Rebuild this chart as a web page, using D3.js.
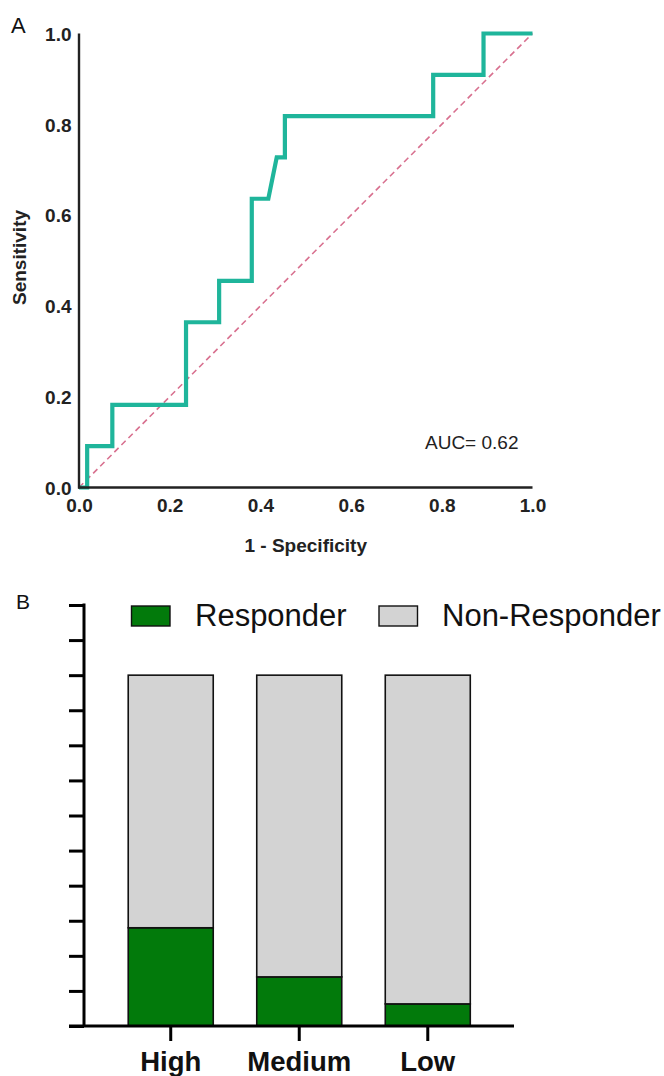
<!DOCTYPE html>
<html>
<head>
<meta charset="utf-8">
<script src="https://cdn.jsdelivr.net/npm/d3@7"></script>
<style>
  html, body { margin: 0; padding: 0; background: #fff; }
  svg { display: block; font-family: "Liberation Sans", Arial, sans-serif; }
</style>
</head>
<body>
<svg id="chart" width="664" height="1076"></svg>
<script>
// ---------- Data: panel A (ROC curve) ----------
const rocFpr = [0, 0.018, 0.018, 0.0735, 0.0735, 0.236, 0.236, 0.309, 0.309, 0.381, 0.381, 0.4175, 0.436, 0.454, 0.454, 0.781, 0.781, 0.892, 0.892, 1.0];
const rocTpr = [0, 0, 0.091, 0.091, 0.182, 0.182, 0.364, 0.364, 0.455, 0.455, 0.636, 0.636, 0.727, 0.727, 0.818, 0.818, 0.909, 0.909, 1.0, 1.0];
const rocTicks = [0, 0.2, 0.4, 0.6, 0.8, 1.0];
const aucText = "AUC= 0.62";

// ---------- Data: panel B (stacked percent bars) ----------
const groups = ["High", "Medium", "Low"];
const responder = [28, 14, 6.3];
const nonResponder = [72, 86, 93.7];
const seriesNames = ["Responder", "Non-Responder"];
const barTicks = [0, 10, 20, 30, 40, 50, 60, 70, 80, 90, 100, 110, 120];

const svg = d3.select("#chart");

// ================= Panel A =================
const A = { left: 79, right: 532.5, top: 33.5, bottom: 487.5 };
const xA = d3.scaleLinear().domain([0, 1]).range([A.left, A.right]);
const yA = d3.scaleLinear().domain([0, 1]).range([A.bottom, A.top]);

svg.append("text").attr("x", 11).attr("y", 32.5)
  .attr("font-size", 22).attr("fill", "#111").text("A");

// diagonal reference
svg.append("line")
  .attr("x1", xA(0)).attr("y1", yA(0)).attr("x2", xA(1)).attr("y2", yA(1))
  .attr("stroke", "#d8708f").attr("stroke-width", 1.6)
  .attr("stroke-dasharray", "6,4");

// ROC curve
const rocPts = rocFpr.map((f, i) => [f, rocTpr[i]]);
svg.append("path")
  .datum(rocPts)
  .attr("d", d3.line().x(d => xA(d[0])).y(d => yA(d[1])))
  .attr("fill", "none").attr("stroke", "#1fb59b")
  .attr("stroke-width", 4.2).attr("stroke-linejoin", "miter");

// axes
const axA = svg.append("g");
axA.append("line").attr("x1", A.left).attr("x2", A.left)
  .attr("y1", A.top).attr("y2", A.bottom + 1)
  .attr("stroke", "#222").attr("stroke-width", 2.4);
axA.append("line").attr("x1", A.left - 1).attr("x2", A.right)
  .attr("y1", A.bottom).attr("y2", A.bottom)
  .attr("stroke", "#222").attr("stroke-width", 2.4);

const xAxisA = d3.axisBottom(xA).tickValues(rocTicks).tickFormat(d3.format(".1f")).tickSize(0).tickPadding(0);
const gx = svg.append("g").attr("transform", `translate(0,${A.bottom})`).call(xAxisA);
gx.select(".domain").remove();
gx.selectAll("text").attr("dy", null).attr("y", 24.5)
  .attr("font-size", 19).attr("font-weight", "bold").attr("fill", "#222")
  .attr("font-family", "Liberation Sans, Arial, sans-serif");

const yAxisA = d3.axisLeft(yA).tickValues(rocTicks).tickFormat(d3.format(".1f")).tickSize(0).tickPadding(7.5);
const gy = svg.append("g").attr("transform", `translate(${A.left},0)`).call(yAxisA);
gy.select(".domain").remove();
gy.selectAll("text").attr("dy", "0.36em")
  .attr("font-size", 19).attr("font-weight", "bold").attr("fill", "#222")
  .attr("font-family", "Liberation Sans, Arial, sans-serif");

svg.append("text").attr("x", (A.left + A.right) / 2).attr("y", 552)
  .attr("text-anchor", "middle").attr("font-size", 19).attr("font-weight", "bold")
  .attr("fill", "#222").text("1 - Specificity");

svg.append("text")
  .attr("transform", `translate(25.5,${(A.top + A.bottom) / 2 - 3}) rotate(-90)`)
  .attr("text-anchor", "middle").attr("font-size", 19).attr("font-weight", "bold")
  .attr("fill", "#222").text("Sensitivity");

svg.append("text").attr("x", 425).attr("y", 448.5)
  .attr("font-size", 19).attr("fill", "#222").text(aucText);

// ================= Panel B =================
const B = { left: 84, top: 605, bottom: 1026, axisRight: 514 };
const xB = d3.scaleBand().domain(groups).range([106.5, 492]).paddingInner(0.3385).paddingOuter(0.169);
const yB = d3.scaleLinear().domain([0, 120]).range([B.bottom, B.top]);
const colors = { "Responder": "#027a0b", "Non-Responder": "#d3d3d3" };

svg.append("text").attr("x", 16).attr("y", 608.5)
  .attr("font-size", 21).attr("fill", "#111").text("B");

const stackData = groups.map((g, i) => ({ group: g, "Responder": responder[i], "Non-Responder": nonResponder[i] }));
const stacked = d3.stack().keys(seriesNames)(stackData);

svg.append("g").selectAll("g").data(stacked).join("g")
  .attr("fill", d => colors[d.key])
  .selectAll("rect").data(d => d).join("rect")
  .attr("x", d => xB(d.data.group))
  .attr("width", xB.bandwidth())
  .attr("y", d => yB(d[1]))
  .attr("height", d => yB(d[0]) - yB(d[1]))
  .attr("stroke", "#111").attr("stroke-width", 1.6);

// y axis (ticks only, no labels)
const yAxisB = d3.axisLeft(yB).tickValues(barTicks).tickSize(15).tickFormat("");
const gyB = svg.append("g").attr("transform", `translate(${B.left},0)`).call(yAxisB);
gyB.select(".domain").attr("stroke", "#000").attr("stroke-width", 3).attr("d", `M0,${B.top - 1.5}V${B.bottom}`);
gyB.selectAll(".tick line").attr("stroke", "#000").attr("stroke-width", 3);

// x axis
svg.append("line").attr("x1", 69).attr("x2", B.axisRight)
  .attr("y1", B.bottom).attr("y2", B.bottom)
  .attr("stroke", "#000").attr("stroke-width", 3);
const xAxisB = d3.axisBottom(xB).tickSize(15).tickPadding(12);
const gxB = svg.append("g").attr("transform", `translate(0,${B.bottom})`).call(xAxisB);
gxB.select(".domain").remove();
gxB.selectAll(".tick line").attr("stroke", "#000").attr("stroke-width", 3);
gxB.selectAll("text").attr("dy", null).attr("y", 45)
  .attr("font-size", 27.5).attr("font-weight", "bold").attr("fill", "#111")
  .attr("font-family", "Liberation Sans, Arial, sans-serif");

// legend
const legendX = [131.5, 379];
const legendTextX = [195, 442];
const lg = svg.append("g").selectAll("g").data(seriesNames).join("g");
lg.append("rect")
  .attr("x", (d, i) => legendX[i]).attr("y", 606)
  .attr("width", 38.5).attr("height", 20)
  .attr("fill", d => colors[d]).attr("stroke", "#111").attr("stroke-width", 1.4);
lg.append("text")
  .attr("x", (d, i) => legendTextX[i]).attr("y", 626)
  .attr("font-size", 31).attr("fill", "#111").text(d => d);
</script>
</body>
</html>
